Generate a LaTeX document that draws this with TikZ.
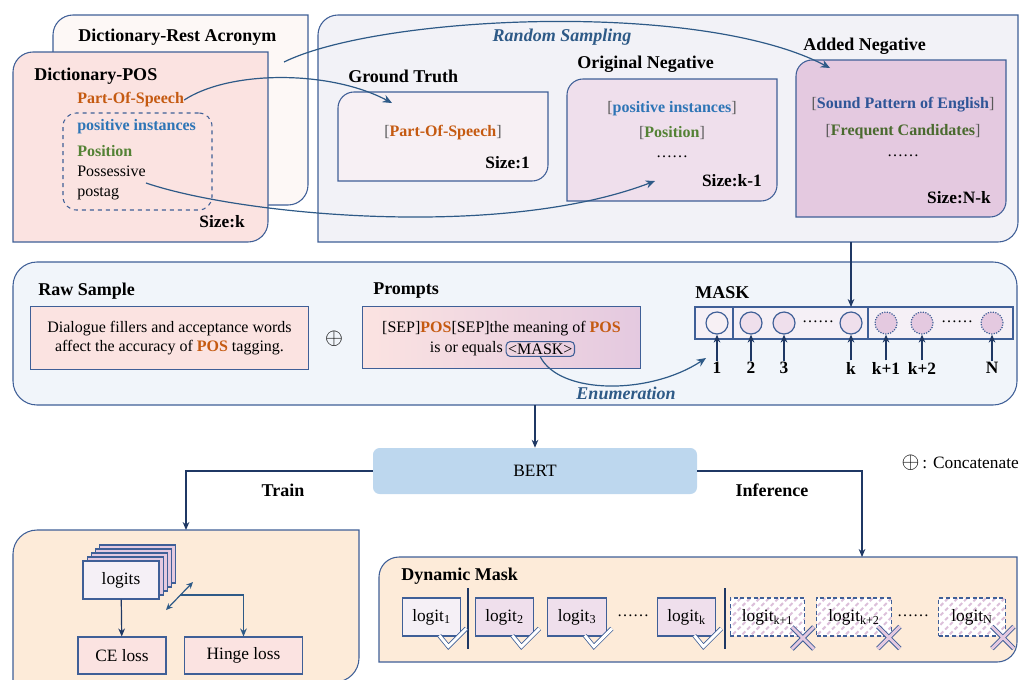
\documentclass[tikz,border=0pt]{standalone}
\usepackage{fontspec}
\setmainfont{Liberation Serif}
\usetikzlibrary{arrows.meta, positioning, fit, patterns.meta}
\definecolor{lineBlue}{HTML}{3F5F97}
\definecolor{arrowNavy}{HTML}{1F3864}
\definecolor{curveBlue}{HTML}{2E5A87}
\definecolor{pinkFill}{HTML}{FBE3E1}
\definecolor{backFill}{HTML}{FDF8F6}
\definecolor{greyFill}{HTML}{F2F2F7}
\definecolor{gtFill}{HTML}{F7F0F4}
\definecolor{origFill}{HTML}{EFDFEC}
\definecolor{addFill}{HTML}{E4C9E0}
\definecolor{stripFill}{HTML}{F5F0F6}
\definecolor{bandFill}{HTML}{F1F5FA}
\definecolor{bertFill}{HTML}{BDD7EE}
\definecolor{orangeFill}{HTML}{FDEBD9}
\definecolor{posOrange}{HTML}{C55A11}
\definecolor{instBlue}{HTML}{2E75B6}
\definecolor{posGreen}{HTML}{548235}
\definecolor{spBlue}{HTML}{2F5597}
\definecolor{fcGreen}{HTML}{4A6A2F}
\definecolor{brkGrey}{HTML}{595959}
\definecolor{hatchPink}{HTML}{DCC0DA}
\tikzset{
  area/.style={inner sep=0pt, outer sep=0pt},
  frame line/.style={draw=lineBlue, line width=0.8pt},
  title/.style={font=\fontsize{13.5}{16}\selectfont\bfseries, inner sep=0pt, anchor=west},
  size label/.style={font=\fontsize{13}{15}\selectfont\bfseries, inner sep=0pt, anchor=east},
  item/.style={font=\fontsize{12}{14}\selectfont\bfseries, inner sep=0pt},
  body/.style={font=\fontsize{12}{15}\selectfont, inner sep=0pt},
  dots/.style={font=\fontsize{12}{14}\selectfont, inner sep=0pt},
  label it/.style={font=\fontsize{13.5}{16}\selectfont\bfseries\itshape, text=curveBlue, inner sep=0pt},
  idx/.style={font=\fontsize{13}{15}\selectfont\bfseries, inner sep=1pt},
  flow/.style={draw=curveBlue, line width=0.9pt, -{Stealth[length=7pt, width=6pt]}},
  arr/.style={draw=arrowNavy, line width=0.9pt, -{Stealth[length=6pt, width=5pt]}},
  arr2/.style={draw=curveBlue, line width=0.9pt, {Stealth[length=5pt, width=4.5pt]}-{Stealth[length=5pt, width=4.5pt]}},
  slot/.style={circle, draw=lineBlue, line width=0.9pt, minimum size=16.5pt, inner sep=0pt},
  textbox/.style={frame line, minimum width=209pt, minimum height=47pt, inner sep=0pt},
  masktok/.style={draw=lineBlue, line width=0.8pt, rounded corners=3pt, inner sep=1.5pt, font=\fontsize{12}{14}\selectfont},
  bertbox/.style={fill=bertFill, rounded corners=5pt, minimum width=243pt, minimum height=34.5pt, font=\fontsize{13}{15}\selectfont},
  card/.style={frame line, minimum width=57pt, minimum height=28.5pt, font=\fontsize{13}{15}\selectfont},
  lossbox/.style={frame line, fill=pinkFill, minimum height=27.75pt, font=\fontsize{13}{15}\selectfont},
  logit/.style={frame line, minimum width=44pt, minimum height=28.5pt, font=\fontsize{13}{15}\selectfont, inner sep=0pt},
  maybe/.style={logit, densely dashed, preaction={fill=white},
    pattern={Lines[angle=45, distance=5pt, line width=1.5pt]}, pattern color=hatchPink},
  sep line/.style={draw=arrowNavy, line width=1pt},
  okline/.style={draw=lineBlue, line width=0.6pt, double=white, double distance=2.2pt, line join=miter},
  noline out/.style={draw=lineBlue, line width=3.6pt},
  noline in/.style={draw=addFill, line width=2.2pt},
}
% box with rounded top-left and bottom-right corners
\newcommand\tlbrbox[3]{%
  \path[#3] (#1.south west) [rounded corners=#2] -- (#1.north west) [sharp corners] -- (#1.north east)
    [rounded corners=#2] -- (#1.south east) [sharp corners] -- cycle;}
\newcommand\bracketed[2]{\textcolor{brkGrey}{\mdseries[}\textcolor{#1}{#2}\textcolor{brkGrey}{\mdseries]}}
\newcommand\okmark[1]{\begin{scope}[shift={(#1.south east)}]
  \draw[okline] (-22,-1) -- (-13,10) -- (5,-8);\end{scope}}
\newcommand\nomark[1]{\begin{scope}[shift={(#1.south east)}]
  \draw[noline out] (-14,-10) -- (8,12) (-14,12) -- (8,-10);
  \draw[noline in] (-14,-10) -- (8,12) (-14,12) -- (8,-10);\end{scope}}

\begin{document}
\begin{tikzpicture}[x=0.75pt, y=-0.75pt]
  \useasboundingbox (0,0) rectangle (1019,679);

  % dictionaries
  \node[area, fit={(53,15) (308,205)}] (rest) {};
  \tlbrbox{rest}{15pt}{frame line, fill=backFill}
  \node[title] (restttl) at (78,37) {Dictionary-Rest Acronym};
  \coordinate (restout) at (284,62);
  \node[area, fit={(13,52) (268,242)}] (dict) {};
  \tlbrbox{dict}{15pt}{frame line, fill=pinkFill}
  \node[title] (dictttl) at (34,76) {Dictionary-POS};
  \node[item, text=posOrange, anchor=west] (pos) at (77,100) {Part-Of-Speech};
  \node[area, fit={(63,113) (212,210)}, frame line, dashed, rounded corners=10pt] (pospool) {};
  \node[item, text=instBlue, anchor=west] (inst) at (77,127) {positive instances};
  \node[item, text=posGreen, anchor=west] (posi) at (77,151) {Position};
  \node[body, anchor=west, align=left] (poss) at (77,183) {Possessive\\postag};
  \node[size label] (sizek) at (245,222) {Size:k};

  % candidate pool
  \node[area, fit={(318,15) (1018,242)}] (pool) {};
  \tlbrbox{pool}{15pt}{frame line, fill=greyFill}
  \node[label it] (rs) at (562,37) {Random Sampling};
  \node[title] (gtttl) at (348,76) {Ground Truth};
  \node[area, fit={(338,92) (548,181)}] (gt) {};
  \tlbrbox{gt}{12pt}{frame line, fill=gtFill}
  \node[item] (gtpos) at (443,133) {\bracketed{posOrange}{Part-Of-Speech}};
  \node[size label] (size1) at (530,163) {Size:1};
  \coordinate (gtin) at (392,103);

  \node[title] (onttl) at (577,64) {Original Negative};
  \node[area, fit={(567,79) (777,201)}] (orig) {};
  \tlbrbox{orig}{12pt}{frame line, fill=origFill}
  \node[item] (oninst) at (672,109) {\bracketed{instBlue}{positive instances}};
  \node[item] (onposi) at (672,133) {\bracketed{posGreen}{Position}};
  \node[dots] (ondots) at (672,157) {……};
  \node[size label] (sizek1) at (762,181) {Size:k-1};
  \coordinate (onin) at (655,181);

  \node[title] (anttl) at (803,46) {Added Negative};
  \node[area, fit={(796,60) (1006,217)}] (added) {};
  \tlbrbox{added}{12pt}{frame line, fill=addFill}
  \node[item] (ansp) at (903,105) {\bracketed{spBlue}{Sound Pattern of English}};
  \node[item] (anfc) at (903,132) {\bracketed{fcGreen}{Frequent Candidates}};
  \node[dots] (andots) at (903,156) {……};
  \node[size label] (sizenk) at (991,198) {Size:N-k};
  \coordinate (anin) at (830,68);

  \draw[flow] (restout) .. controls (380,15) and (700,0) .. (anin);
  \draw[flow] (pos.east) .. controls (230,70) and (330,70) .. (gtin);
  \draw[flow] (poss.east) .. controls (240,215) and (500,240) .. (onin);

  % input band
  \node[area, fit={(13,262) (1017,405)}, frame line, fill=bandFill, rounded corners=18pt] (band) {};
  \node[title] (rawttl) at (38,291) {Raw Sample};
  \node[textbox, fill=pinkFill, align=center, font=\fontsize{12}{14.5}\selectfont] (raw) at (169.5,338)
    {Dialogue fillers and acceptance words\\affect the accuracy of \textcolor{posOrange}{\bfseries POS} tagging.};
  \node[body, font=\fontsize{17}{17}\selectfont] (concat) at (334,339) {$\oplus$};
  \node[title] (prmttl) at (373,291) {Prompts};
  \node[textbox, left color=pinkFill, right color=addFill] (prompt) at (501.5,337.5) {};
  \node[body] (prm1) at (501.5,329)
    {[SEP]\textcolor{posOrange}{\bfseries POS}[SEP]the meaning of \textcolor{posOrange}{\bfseries POS}};
  \node[body, anchor=east] (eq) at (503,349) {is or equals};
  \node[masktok, right=2pt of eq] (mtok) {<MASK>};

  \node[title] (maskttl) at (695,293) {MASK};
  \node[area, fit={(695,307) (1013,339)}, frame line, fill=stripFill] (strip) {};
  \draw[frame line] (733,307) -- (733,339) (868,307) -- (868,339);
  \node[slot, fill=gtFill] (c1) at (717,323) {};
  \node[slot, fill=origFill] (c2) at (751,323) {};
  \node[slot, fill=origFill] (c3) at (784,323) {};
  \node[dots] (cdots1) at (818,322) {……};
  \node[slot, fill=origFill] (ck) at (851,323) {};
  \node[slot, densely dotted, fill=addFill] (ck1) at (886,323) {};
  \node[slot, densely dotted, fill=addFill] (ck2) at (922,323) {};
  \node[dots] (cdots2) at (957,322) {……};
  \node[slot, densely dotted, fill=addFill] (cn) at (992,323) {};
  \node[idx] (i1) at (717,368) {1};
  \node[idx] (i2) at (751,368) {2};
  \node[idx] (i3) at (784,368) {3};
  \node[idx] (ik) at (851,368) {k};
  \node[idx] (ik1) at (886,368) {k+1};
  \node[idx] (ik2) at (922,368) {k+2};
  \node[idx] (in) at (992,368) {N};
  \draw[arr] (i1) -- (c1);
  \draw[arr] (i2) -- (c2);
  \draw[arr] (i3) -- (c3);
  \draw[arr] (ik) -- (ck);
  \draw[arr] (ik1) -- (ck1);
  \draw[arr] (ik2) -- (ck2);
  \draw[arr] (in) -- (cn);
  \draw[arr] (pool.south -| ck) -- (ck |- strip.north);

  \coordinate (enumend) at (706,358);
  \draw[flow] (mtok.south) .. controls (560,395) and (650,395) .. (enumend);
  \node[label it] (enum) at (626,393) {Enumeration};

  % model
  \node[bertbox] (bert) at (535,471) {BERT};
  \draw[arr] (band.south -| bert) -- (bert.north);
  \node[body, anchor=east, font=\fontsize{13}{15}\selectfont] (legend) at (1019,463)
    {{\fontsize{16}{16}\selectfont$\oplus$}\,: Concatenate};

  % training
  \node[area, fit={(13,530) (359,682)}] (trainbox) {};
  \tlbrbox{trainbox}{18pt}{frame line, fill=orangeFill}
  \draw[arr] (bert.west) -| (trainbox.north);
  \node[title, anchor=center] (train) at (283,490) {Train};
  \node[card, fill=addFill] (lay4) at (137.8,564) {};
  \node[card, fill=addFill] (lay3) at (133.6,568) {};
  \node[card, fill=addFill] (lay2) at (129.4,572) {};
  \node[card, fill=addFill] (lay1) at (125.2,576) {};
  \node[card, fill=stripFill] (logits) at (121,580) {logits};
  \node[lossbox, minimum width=66pt] (ce) at (122,655.5) {CE loss};
  \node[lossbox, minimum width=88pt] (hinge) at (243.5,655.5) {Hinge loss};
  \draw[arr] (logits) -- (ce);
  \coordinate (dA) at (166,610);
  \coordinate (dB) at (193,582);
  \coordinate (dmid) at (180,595);
  \draw[arr2] (dA) -- (dB);
  \draw[arr, draw=curveBlue] (dmid) -| (hinge.north);

  % inference
  \node[area, fit={(379,557) (1017,662)}] (dyn) {};
  \tlbrbox{dyn}{15pt}{frame line, fill=orangeFill}
  \coordinate (infer) at (862,557);
  \draw[arr] (bert.east) -| (infer);
  \node[title, anchor=center] (inference) at (772,490) {Inference};
  \node[title] (dynttl) at (401,576) {Dynamic Mask};
  \node[logit, fill=stripFill] (g1) at (431.5,617) {logit\textsubscript{1}};
  \node[logit, fill=origFill] (g2) at (504.5,617) {logit\textsubscript{2}};
  \node[logit, fill=origFill] (g3) at (577,617) {logit\textsubscript{3}};
  \node[dots] (gdots1) at (633,616) {……};
  \node[logit, fill=origFill] (gk) at (686.5,617) {logit\textsubscript{k}};
  \node[maybe, minimum width=56pt] (gk1) at (767.5,617) {logit\textsubscript{k+1}};
  \node[maybe, minimum width=56pt] (gk2) at (854,617) {logit\textsubscript{k+2}};
  \node[dots] (gdots2) at (913,616) {……};
  \node[maybe, minimum width=50pt] (gn) at (972,617) {logit\textsubscript{N}};
  \draw[sep line] (468,588) -- (468,649) (725,588) -- (725,649);
  \okmark{g1}
  \okmark{g2}
  \okmark{g3}
  \okmark{gk}
  \nomark{gk1}
  \nomark{gk2}
  \nomark{gn}
\end{tikzpicture}
\end{document}
